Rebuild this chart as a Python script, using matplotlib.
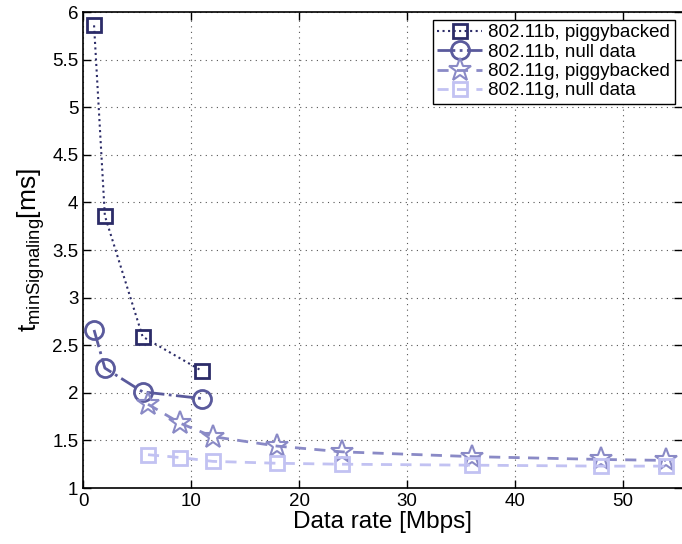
import matplotlib
matplotlib.use("Agg")
import matplotlib.pyplot as plt
from matplotlib.ticker import MultipleLocator, FuncFormatter

plt.rcParams['font.family'] = ['Liberation Sans', 'DejaVu Sans']
plt.rcParams['mathtext.fontset'] = 'custom'
plt.rcParams['mathtext.rm'] = 'Liberation Sans'
plt.rcParams['mathtext.it'] = 'Liberation Sans'

# Data
x_b = [1, 2, 5.5, 11]
y_b_piggy = [5.86, 3.86, 2.59, 2.23]
y_b_null = [2.66, 2.26, 2.01, 1.94]

x_g = [6, 9, 12, 18, 24, 36, 48, 54]
y_g_piggy = [1.88, 1.68, 1.54, 1.44, 1.38, 1.33, 1.30, 1.29]
y_g_null = [1.35, 1.32, 1.28, 1.26, 1.25, 1.24, 1.23, 1.23]

labels = ['802.11b, piggybacked', '802.11b, null data',
          '802.11g, piggybacked', '802.11g, null data']

c1 = '#2c2c68'
c2 = '#5a5a9c'
c3 = '#8a8ac6'
c4 = '#c2c2f2'

fig = plt.figure(figsize=(6.82, 5.44), dpi=100)
ax = fig.add_axes([0.1221, 0.1029, 0.8779, 0.875])

ax.plot(x_b, y_b_piggy, linestyle=':', color=c1, lw=1.5, marker='s', ms=10,
        mfc='none', mew=2, label=labels[0])
ax.plot(x_b, y_b_null, linestyle='-.', color=c2, lw=2, marker='o', ms=13,
        mfc='none', mew=2, label=labels[1])
ax.plot(x_g, y_g_piggy, linestyle='--', color=c3, lw=2, marker='*', ms=17,
        mfc='none', mew=1.5, label=labels[2], dashes=(4, 3))
ax.plot(x_g, y_g_null, linestyle='--', color=c4, lw=2, marker='s', ms=10,
        mfc='none', mew=2, label=labels[3], dashes=(4, 3))

ax.set_xlim(0, 55.5)
ax.set_ylim(1, 6)
ax.xaxis.set_major_locator(MultipleLocator(10))
ax.yaxis.set_major_locator(MultipleLocator(0.5))
ax.yaxis.set_major_formatter(FuncFormatter(lambda v, p: ('%g' % v)))
ax.grid(True, linestyle=(0, (1, 4)), color='#555555', lw=0.8)
ax.tick_params(direction='in', top=True, right=True, labelsize=13.5, length=6, width=1)
for s in ax.spines.values():
    s.set_linewidth(1.2)
ax.spines['right'].set_visible(False)

ax.set_xlabel('Data rate [Mbps]', fontsize=17.5, labelpad=1)
ax.set_ylabel(r'$\mathrm{t_{minSignaling}}$[ms]', fontsize=19, labelpad=4)

leg = ax.legend(loc='upper right', fontsize=13.5, frameon=True, fancybox=False,
                edgecolor='black', framealpha=1, borderpad=0.25, labelspacing=0.12,
                handlelength=2.4, handletextpad=0.3, borderaxespad=0.4)
leg.get_frame().set_linewidth(1.0)

fig.savefig('out.png', dpi=100)
